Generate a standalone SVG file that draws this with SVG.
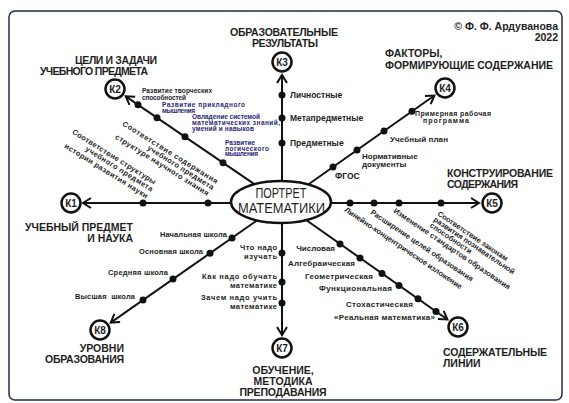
<svg xmlns="http://www.w3.org/2000/svg" width="569" height="403" viewBox="0 0 569 403">
<defs>
<marker id="arr" markerUnits="userSpaceOnUse" markerWidth="12" markerHeight="14" refX="9" refY="6" orient="auto">
<path d="M1,1 L9,6 L1,11" fill="none" stroke="#111" stroke-width="2"/>
</marker>
<style>
text{font-family:"Liberation Sans",Arial,sans-serif;font-weight:bold;fill:#1e1e1e}
.t{font-size:10.5px}
.k{font-size:10px;text-anchor:middle}
.l{font-size:8px}
.s{font-size:7.5px}
.n{font-size:6.5px;fill:#2a2a78}
.e{text-anchor:end}
.m{text-anchor:middle}
.ln{stroke:#111;stroke-width:2;fill:none}
.d{fill:#111}
.c{fill:#fff;stroke:#111;stroke-width:2.5}
</style>
</defs>
<rect x="9" y="11" width="553" height="389" rx="6" fill="#fff" stroke="#1f2b4a" stroke-width="1.5"/>

<g id="connectors">
<line class="ln" x1="282" y1="203" x2="83" y2="203" marker-end="url(#arr)"/>
<line class="ln" x1="282" y1="203" x2="125.7" y2="96.3" marker-end="url(#arr)"/>
<line class="ln" x1="282" y1="203" x2="282" y2="75" marker-end="url(#arr)"/>
<line class="ln" x1="282" y1="203" x2="434.4" y2="95.5" marker-end="url(#arr)"/>
<line class="ln" x1="282" y1="203" x2="479" y2="203" marker-end="url(#arr)"/>
<line class="ln" x1="282" y1="203" x2="447.4" y2="319.5" marker-end="url(#arr)"/>
<line class="ln" x1="282" y1="203" x2="282" y2="335" marker-end="url(#arr)"/>
<line class="ln" x1="282" y1="203" x2="110.7" y2="322.6" marker-end="url(#arr)"/>
<circle class="d" cx="143" cy="203" r="3.5"/>
<circle class="d" cx="208" cy="203" r="3.5"/>
<circle class="d" cx="138" cy="104.7" r="3.5"/>
<circle class="d" cx="157" cy="117.7" r="3.5"/>
<circle class="d" cx="185" cy="136.8" r="3.5"/>
<circle class="d" cx="223" cy="162.7" r="3.5"/>
<circle class="d" cx="282" cy="95" r="3.5"/>
<circle class="d" cx="282" cy="118" r="3.5"/>
<circle class="d" cx="282" cy="143" r="3.5"/>
<circle class="d" cx="333" cy="167" r="3.5"/>
<circle class="d" cx="357" cy="150.1" r="3.5"/>
<circle class="d" cx="384" cy="131" r="3.5"/>
<circle class="d" cx="412" cy="111.3" r="3.5"/>
<circle class="d" cx="350" cy="203" r="3.5"/>
<circle class="d" cx="374" cy="203" r="3.5"/>
<circle class="d" cx="399" cy="203" r="3.5"/>
<circle class="d" cx="441" cy="203" r="3.5"/>
<circle class="d" cx="340" cy="243.9" r="3.5"/>
<circle class="d" cx="360" cy="258" r="3.5"/>
<circle class="d" cx="382" cy="273.5" r="3.5"/>
<circle class="d" cx="399" cy="285.4" r="3.5"/>
<circle class="d" cx="418" cy="298.8" r="3.5"/>
<circle class="d" cx="436" cy="311.5" r="3.5"/>
<circle class="d" cx="282" cy="253" r="3.5"/>
<circle class="d" cx="282" cy="282" r="3.5"/>
<circle class="d" cx="282" cy="303" r="3.5"/>
<circle class="d" cx="232" cy="237.9" r="3.5"/>
<circle class="d" cx="210" cy="253.2" r="3.5"/>
<circle class="d" cx="173" cy="279" r="3.5"/>
<circle class="d" cx="143" cy="300" r="3.5"/>
</g>

<g id="center">
<ellipse class="c" cx="281" cy="202" rx="50" ry="21"/>
<text x="281" y="198" style="font-size:14px;font-weight:normal;text-anchor:middle" textLength="51" lengthAdjust="spacingAndGlyphs">ПОРТРЕТ</text>
<text x="281.5" y="213" style="font-size:14px;font-weight:normal;text-anchor:middle" textLength="87" lengthAdjust="spacingAndGlyphs">МАТЕМАТИКИ</text>
</g>

<g id="copyright">
<text class="t e" x="558" y="29.5">© Ф. Ф. Ардуванова</text>
<text class="t e" x="558" y="41">2022</text>
</g>

<g id="k1">
<circle class="c" cx="71" cy="203" r="9.5"/>
<text class="k" x="71" y="206.6">К1</text>
<text class="t e" x="133" y="230.6">УЧЕБНЫЙ ПРЕДМЕТ</text>
<text class="t e" x="133" y="241.8">И НАУКА</text>
<text class="s e" transform="translate(154,184.7) rotate(32)" textLength="97">Соответствие структуры</text>
<text class="s e" transform="translate(151,191.7) rotate(32)" textLength="78">учебного предмета</text>
<text class="s e" transform="translate(146,198.7) rotate(32)" textLength="97">истории развития науки</text>
<text class="s e" transform="translate(216,184) rotate(32)" textLength="111">Соответствие содержания</text>
<text class="s e" transform="translate(212,190) rotate(32)" textLength="77">учебного предмета</text>
<text class="s e" transform="translate(207,196) rotate(32)" textLength="109">структуре научного знания</text>
</g>

<g id="k2">
<circle class="c" cx="115" cy="89" r="9.5"/>
<text class="k" x="115" y="92.6">К2</text>
<text class="t" x="75" y="63.6" textLength="82">ЦЕЛИ И ЗАДАЧИ</text>
<text class="t" x="40" y="75" textLength="108">УЧЕБНОГО ПРЕДМЕТА</text>
<text class="n" x="142" y="93" style="fill:#1e1e30" textLength="70">Развитие творческих</text>
<text class="n" x="142" y="99.5" style="fill:#1e1e30" textLength="44">способностей</text>
<text class="n" x="162" y="107" textLength="83">Развитие прикладного</text>
<text class="n" x="162" y="113" textLength="33">мышления</text>
<text class="n" x="192" y="119.2" textLength="68">Овладение системой</text>
<text class="n" x="192" y="125" textLength="88">математических знаний,</text>
<text class="n" x="192" y="130.8" textLength="62">умений и навыков</text>
<text class="n" x="225" y="144.8" textLength="30">Развитие</text>
<text class="n" x="225" y="150.6" textLength="44">логического</text>
<text class="n" x="225" y="156.4" textLength="33">мышления</text>
</g>

<g id="k3">
<circle class="c" cx="282" cy="62" r="9.5"/>
<text class="k" x="282" y="65.6">К3</text>
<text class="t m" x="284" y="35.6" textLength="108">ОБРАЗОВАТЕЛЬНЫЕ</text>
<text class="t m" x="285" y="46.8" textLength="66">РЕЗУЛЬТАТЫ</text>
<text class="l" x="290" y="98" style="font-size:8.5px">Личностные</text>
<text class="l" x="290" y="121" style="font-size:8.5px">Метапредметные</text>
<text class="l" x="290" y="146" style="font-size:8.5px">Предметные</text>
</g>

<g id="k4">
<circle class="c" cx="445" cy="88" r="9.5"/>
<text class="k" x="445" y="91.6">К4</text>
<text class="t" x="385" y="56.6">ФАКТОРЫ,</text>
<text class="t" x="385" y="68.6" textLength="168">ФОРМИРУЮЩИЕ СОДЕРЖАНИЕ</text>
<text class="s" x="415" y="116" style="font-size:7px" textLength="76">Примерная рабочая</text>
<text class="s" x="423" y="123" style="font-size:7px" textLength="46">программа</text>
<text class="l" x="390" y="141.5" textLength="58">Учебный план</text>
<text class="l" x="362" y="158.5">Нормативные</text>
<text class="l" x="362" y="166.8">документы</text>
<text class="l" x="335" y="179" style="font-size:8.5px">ФГОС</text>
</g>

<g id="k5">
<circle class="c" cx="492" cy="203" r="9.5"/>
<text class="k" x="492" y="206.6">К5</text>
<text class="t" x="447" y="176.6" textLength="106">КОНСТРУИРОВАНИЕ</text>
<text class="t" x="447" y="187.6" textLength="71">СОДЕРЖАНИЯ</text>
<text class="s" transform="translate(344,211) rotate(34)" textLength="140">Линейно-концентрическое изложение</text>
<text class="s" transform="translate(370,213.5) rotate(34)" textLength="122">Расширение целей образования</text>
<text class="s" transform="translate(393,212) rotate(34)" textLength="139">Изменение стандартов образования</text>
<text class="s" transform="translate(437,215) rotate(34)" textLength="83">Соответствие законам</text>
<text class="s" transform="translate(433.1,220.8) rotate(34)" textLength="96">развития познавательной</text>
<text class="s" transform="translate(429.2,226.6) rotate(34)" textLength="49">способности</text>
</g>

<g id="k6">
<circle class="c" cx="458" cy="327" r="9.5"/>
<text class="k" x="458" y="330.6">К6</text>
<text class="t" x="443" y="355.6" textLength="104">СОДЕРЖАТЕЛЬНЫЕ</text>
<text class="t" x="443" y="366.8">ЛИНИИ</text>
<text class="l e" x="335" y="250.5">Числовая</text>
<text class="l e" x="355" y="265.5" textLength="67">Алгебраическая</text>
<text class="l e" x="373" y="278.5" textLength="68">Геометрическая</text>
<text class="l e" x="392" y="290.5" textLength="73">Функциональная</text>
<text class="l e" x="413" y="306.5" textLength="67">Стохастическая</text>
<text class="l e" x="435" y="319.5" textLength="101">«Реальная математика»</text>
</g>

<g id="k7">
<circle class="c" cx="282" cy="348" r="9.5"/>
<text class="k" x="282" y="351.6">К7</text>
<text class="t m" x="283" y="373.6">ОБУЧЕНИЕ,</text>
<text class="t m" x="283" y="384.8">МЕТОДИКА</text>
<text class="t m" x="283" y="396" textLength="87">ПРЕПОДАВАНИЯ</text>
<text class="l e" x="277" y="250" style="font-size:7.5px" textLength="37">Что надо</text>
<text class="l e" x="277" y="258.5" style="font-size:7.5px" textLength="33">изучать</text>
<text class="l e" x="277" y="279" style="font-size:7.5px" textLength="75">Как надо обучать</text>
<text class="l e" x="277" y="287.5" style="font-size:7.5px" textLength="47">математике</text>
<text class="l e" x="277" y="300" style="font-size:7.5px" textLength="76">Зачем надо учить</text>
<text class="l e" x="277" y="308.5" style="font-size:7.5px" textLength="47">математике</text>
</g>

<g id="k8">
<circle class="c" cx="100" cy="330" r="9.5"/>
<text class="k" x="100" y="333.6">К8</text>
<text class="t e" x="124" y="351.6">УРОВНИ</text>
<text class="t e" x="124" y="362.8" textLength="79">ОБРАЗОВАНИЯ</text>
<text class="s e" x="227" y="236.5" textLength="67">Начальная школа</text>
<text class="s e" x="203" y="253.5" textLength="64">Основная школа</text>
<text class="s e" x="168" y="274.5" textLength="60">Средняя школа</text>
<text class="s e" x="135" y="298.5" style="white-space:pre" textLength="60">Высшая  школа</text>
</g>
</svg>
